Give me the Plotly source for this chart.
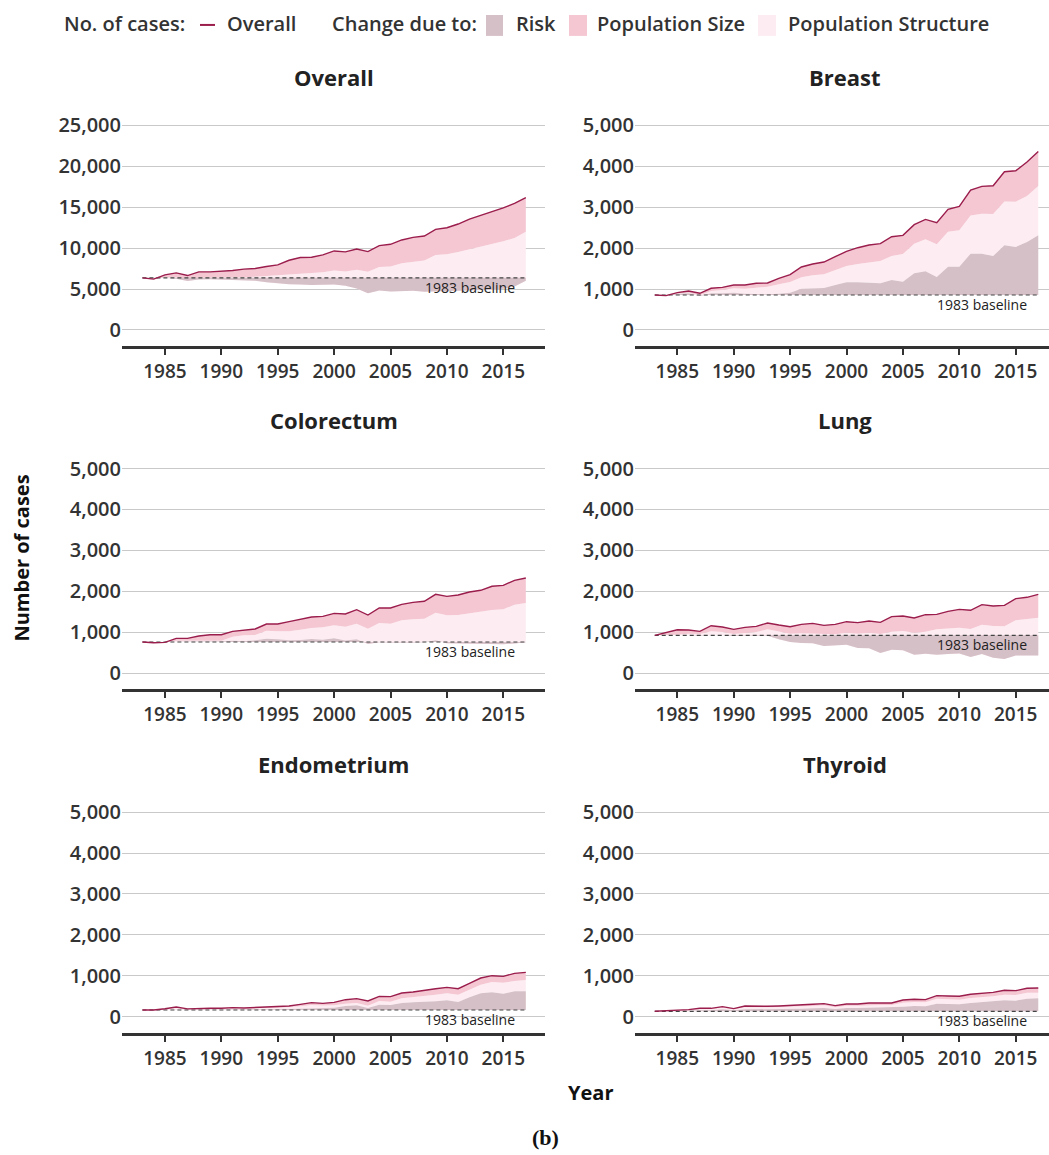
import plotly.graph_objects as go

# ---- data -------------------------------------------------------------
years = list(range(1983, 2018))
x_tick_years = [1985, 1990, 1995, 2000, 2005, 2010, 2015]

panel_titles = ["Overall", "Breast", "Colorectum", "Lung", "Endometrium", "Thyroid"]
y_tick_steps = [5000, 1000, 1000, 1000, 1000, 1000]

# observed number of cases
overall_total = [6370, 6210, 6740, 6980, 6650, 7100, 7100, 7140, 7260, 7430, 7510, 7750, 7950, 8520, 8850,
                 8890, 9170, 9660, 9540, 9900, 9580, 10310, 10470, 11000, 11320, 11480, 12300, 12500, 12950,
                 13550, 14000, 14490, 14930, 15460, 16190]
breast_total = [855, 839, 912, 953, 896, 1018, 1042, 1099, 1099, 1140, 1148, 1262, 1352, 1539, 1612, 1661, 1791,
                1922, 2011, 2077, 2109, 2280, 2313, 2573, 2703, 2622, 2948, 3021, 3420, 3510, 3526, 3868, 3892,
                4104, 4365]
colorectum_total = [759, 742, 750, 848, 848, 905, 938, 938, 1020, 1044, 1077, 1199, 1199, 1256, 1313, 1370, 1387,
                    1460, 1444, 1550, 1419, 1591, 1591, 1680, 1729, 1754, 1925, 1876, 1909, 1982, 2023, 2121,
                    2145, 2268, 2325]
lung_total = [922, 987, 1060, 1052, 1020, 1158, 1126, 1069, 1117, 1142, 1224, 1175, 1134, 1191, 1215, 1166, 1191,
              1256, 1232, 1272, 1240, 1379, 1395, 1346, 1427, 1436, 1509, 1558, 1534, 1672, 1640, 1656, 1819,
              1852, 1925]
endometrium_total = [163, 163, 195, 236, 190, 204, 204, 204, 220, 212, 220, 236, 252, 261, 301, 342, 326, 350, 415,
                     440, 383, 497, 489, 578, 603, 651, 684, 717, 684, 814, 945, 1002, 985, 1059, 1083]
thyroid_total = [131, 139, 163, 171, 204, 204, 245, 196, 261, 253, 253, 261, 269, 286, 302, 318, 269, 310, 310,
                 334, 334, 334, 408, 424, 416, 514, 506, 498, 547, 563, 595, 644, 636, 693, 702]

# cumulative level after adding the change due to risk (baseline + risk)
overall_risk = [6370, 6290, 6370, 6250, 5970, 6170, 6210, 6170, 6130, 6090, 6010, 5840, 5680, 5600, 5560, 5480,
                5520, 5560, 5400, 5070, 4500, 4830, 4710, 4790, 4790, 4670, 4710, 4710, 4750, 4830, 4870, 4910,
                5030, 5320, 6010]
breast_risk = [855, 855, 879, 896, 831, 896, 896, 912, 888, 871, 871, 888, 912, 1010, 1026, 1026, 1099, 1164, 1164,
               1156, 1140, 1221, 1181, 1384, 1433, 1295, 1547, 1547, 1865, 1865, 1808, 2068, 2028, 2150, 2313]
colorectum_risk = [759, 755, 755, 760, 765, 765, 765, 770, 790, 780, 805, 840, 825, 800, 810, 830, 815, 850, 795,
                   825, 710, 755, 750, 745, 750, 755, 800, 730, 725, 720, 715, 710, 705, 720, 755]
lung_risk = [922, 925, 930, 925, 915, 930, 925, 905, 915, 920, 915, 824, 759, 734, 726, 661, 669, 693, 612, 604,
             489, 571, 555, 449, 473, 449, 465, 481, 392, 465, 375, 343, 432, 424, 432]
endometrium_risk = [163, 163, 168, 175, 168, 170, 172, 172, 175, 172, 175, 180, 180, 185, 195, 205, 200, 220, 261,
                    277, 212, 293, 285, 334, 350, 358, 375, 399, 358, 472, 570, 594, 562, 619, 619]
thyroid_risk = [131, 131, 139, 147, 155, 155, 179, 155, 179, 179, 179, 188, 196, 196, 204, 212, 188, 212, 212, 220,
                220, 220, 245, 261, 253, 318, 310, 302, 334, 351, 375, 400, 392, 440, 449]

# cumulative level after also adding the change due to population structure
overall_structure = [6370, 6210, 6450, 6450, 6170, 6370, 6370, 6370, 6410, 6450, 6490, 6580, 6700, 6780, 6860,
                     7020, 7060, 7270, 7140, 7350, 7100, 7710, 7750, 8160, 8360, 8480, 9170, 9250, 9540, 9860,
                     10190, 10510, 10840, 11240, 12010]
breast_structure = [855, 839, 888, 912, 847, 953, 977, 1018, 1010, 1042, 1059, 1116, 1173, 1287, 1335, 1360, 1458,
                    1563, 1612, 1653, 1686, 1808, 1857, 2109, 2215, 2093, 2402, 2435, 2801, 2842, 2834, 3143, 3135,
                    3274, 3518]
colorectum_structure = [759, 742, 750, 791, 791, 791, 791, 791, 889, 922, 930, 1036, 1020, 1020, 1060, 1101, 1117,
                        1166, 1134, 1207, 1085, 1224, 1207, 1289, 1313, 1330, 1476, 1411, 1419, 1460, 1493, 1542,
                        1558, 1672, 1713]
lung_structure = [922, 922, 938, 963, 954, 1020, 1003, 954, 971, 1003, 1069, 1020, 963, 971, 963, 938, 946, 987,
                  963, 987, 954, 1011, 1028, 987, 1011, 1069, 1093, 1109, 1077, 1183, 1150, 1142, 1289, 1313, 1354]
endometrium_structure = [163, 163, 179, 212, 187, 195, 195, 195, 204, 195, 204, 212, 220, 228, 252, 285, 270, 277,
                         318, 334, 269, 383, 366, 448, 472, 513, 537, 570, 537, 660, 782, 847, 831, 871, 896]
thyroid_structure = [131, 139, 155, 163, 188, 188, 220, 179, 237, 228, 228, 237, 237, 253, 261, 277, 228, 269, 269,
                     286, 286, 286, 343, 359, 351, 440, 424, 416, 457, 473, 498, 538, 530, 587, 587]

totals = [overall_total, breast_total, colorectum_total, lung_total, endometrium_total, thyroid_total]
risks = [overall_risk, breast_risk, colorectum_risk, lung_risk, endometrium_risk, thyroid_risk]
structures = [overall_structure, breast_structure, colorectum_structure, lung_structure,
              endometrium_structure, thyroid_structure]

# ---- styling ----------------------------------------------------------
W, H = 1049, 1155
LINE_COL = "#9a1d4c"
RISK_COL = "#d6c0c7"
SIZE_COL = "#f4c7d3"
STRUCT_COL = "#fdedf2"
GRID_COL = "#c9c9c9"
AXIS_COL = "#333333"
TEXT_COL = "#333333"
FONT = "Open Sans"

# panel geometry (pixels)
col_x = [(122, 545), (635, 1049)]
col_range = [(1981.19, 2018.70), (1981.25, 2017.95)]
col_title_x = [333.5, 845]
row_top = [112.1, 456.1, 800.6]
row_bottom = [344.0, 688.0, 1032.5]
Y_LOW, Y_HIGH = -0.395, 5.26


def px(x):
    return x / W


def py(y):
    return 1 - y / H


fig = go.Figure()
annotations = []
shapes = []

for i, title in enumerate(panel_titles):
    r, c = divmod(i, 2)
    n = "" if i == 0 else str(i + 1)
    xa, ya = "x" + n, "y" + n
    total, risk, struct = totals[i], risks[i], structures[i]
    base = total[0]
    baseline = [base] * len(years)

    # population structure band (drawn from the risk level upward)
    fig.add_trace(go.Scatter(x=years, y=risk, mode="lines", line=dict(width=0, color=STRUCT_COL),
                             xaxis=xa, yaxis=ya, hoverinfo="skip", showlegend=False))
    fig.add_trace(go.Scatter(x=years, y=struct, mode="lines", line=dict(width=0, color=STRUCT_COL),
                             fill="tonexty", fillcolor=STRUCT_COL, xaxis=xa, yaxis=ya,
                             hoverinfo="skip", showlegend=False))
    # population size band up to the observed total
    fig.add_trace(go.Scatter(x=years, y=total, mode="lines", line=dict(width=0, color=SIZE_COL),
                             fill="tonexty", fillcolor=SIZE_COL, xaxis=xa, yaxis=ya,
                             hoverinfo="skip", showlegend=False))
    # risk band between baseline and the risk level
    fig.add_trace(go.Scatter(x=years, y=baseline, mode="lines", line=dict(width=0, color=RISK_COL),
                             xaxis=xa, yaxis=ya, hoverinfo="skip", showlegend=False))
    fig.add_trace(go.Scatter(x=years, y=risk, mode="lines", line=dict(width=0, color=RISK_COL),
                             fill="tonexty", fillcolor=RISK_COL, xaxis=xa, yaxis=ya,
                             hoverinfo="skip", showlegend=False))
    # 1983 baseline and observed cases
    fig.add_trace(go.Scatter(x=years, y=baseline, mode="lines",
                             line=dict(width=1.2, color="#444444", dash="4px,3px"),
                             xaxis=xa, yaxis=ya, hoverinfo="skip", showlegend=False))
    fig.add_trace(go.Scatter(x=years, y=total, mode="lines", line=dict(width=1.4, color=LINE_COL),
                             xaxis=xa, yaxis=ya, name="Overall", showlegend=False))

    step = y_tick_steps[i]
    fig.layout["xaxis" + n] = dict(
        domain=[px(col_x[c][0]), px(col_x[c][1])], range=list(col_range[c]), anchor=ya,
        tickvals=x_tick_years, ticktext=[str(v) for v in x_tick_years],
        showgrid=False, zeroline=False, showline=True, linecolor=AXIS_COL, linewidth=3,
        ticks="outside", ticklen=6, tickwidth=2, tickcolor=AXIS_COL,
        tickfont=dict(family=FONT, size=19, color=TEXT_COL, weight=600), fixedrange=True)
    fig.layout["yaxis" + n] = dict(
        domain=[py(row_bottom[r]), py(row_top[r])], range=[Y_LOW * step, Y_HIGH * step], anchor=xa,
        tickvals=[k * step for k in range(6)], tickformat=",", showgrid=True, gridcolor=GRID_COL,
        gridwidth=1.3, zeroline=False, showline=False, ticks="",
        tickfont=dict(family=FONT, size=20, color=TEXT_COL, weight=600), fixedrange=True)

    annotations.append(dict(text=title, x=px(col_title_x[c]), y=py(row_top[r] - 38), xref="paper",
                            yref="paper", xanchor="center", yanchor="middle", showarrow=False,
                            font=dict(family=FONT, size=22, color="#222222", weight=700)))
    annotations.append(dict(text="1983 baseline", x=2016.2, y=base, xref=xa, yref=ya, xanchor="right",
                            yanchor="top", yshift=2, showarrow=False,
                            font=dict(family=FONT, size=14, color="#222222")))

# axis titles and caption
annotations.append(dict(text="Number of cases", x=px(22), y=py(557), xref="paper", yref="paper",
                        textangle=-90, showarrow=False, xanchor="center", yanchor="middle",
                        font=dict(family=FONT, size=20, color="#111111", weight=700)))
annotations.append(dict(text="Year", x=px(590), y=py(1092), xref="paper", yref="paper", showarrow=False,
                        xanchor="center", yanchor="middle",
                        font=dict(family=FONT, size=20, color="#111111", weight=700)))
annotations.append(dict(text="(b)", x=px(545), y=py(1137), xref="paper", yref="paper", showarrow=False,
                        xanchor="center", yanchor="middle",
                        font=dict(family="Liberation Serif", size=22, color="#111111", weight=700)))

# legend row
LEG_Y = 21
leg_font = dict(family=FONT, size=20, color=TEXT_COL, weight=600)
for text, x0 in [("No. of cases:", 62), ("Overall", 225), ("Change due to:", 330), ("Risk", 514),
                 ("Population Size", 595), ("Population Structure", 786)]:
    annotations.append(dict(text='<span style="font-stretch:88%">' + text + '</span>', x=px(x0), y=py(LEG_Y),
                            xref="paper", yref="paper", showarrow=False,
                            xanchor="left", yanchor="middle", font=leg_font))
shapes.append(dict(type="line", xref="paper", yref="paper", x0=px(200), x1=px(215), y0=py(22),
                   y1=py(22), line=dict(color=LINE_COL, width=2)))
for (x0, x1), col in [((486, 503), RISK_COL), ((569, 587), SIZE_COL), ((758, 776), STRUCT_COL)]:
    shapes.append(dict(type="rect", xref="paper", yref="paper", x0=px(x0), x1=px(x1), y0=py(33), y1=py(12),
                       line=dict(width=0), fillcolor=col))

fig.update_layout(width=W, height=H, margin=dict(l=0, r=0, t=0, b=0), paper_bgcolor="white",
                  plot_bgcolor="white", showlegend=False, annotations=annotations, shapes=shapes)

fig.write_html("out.html")
